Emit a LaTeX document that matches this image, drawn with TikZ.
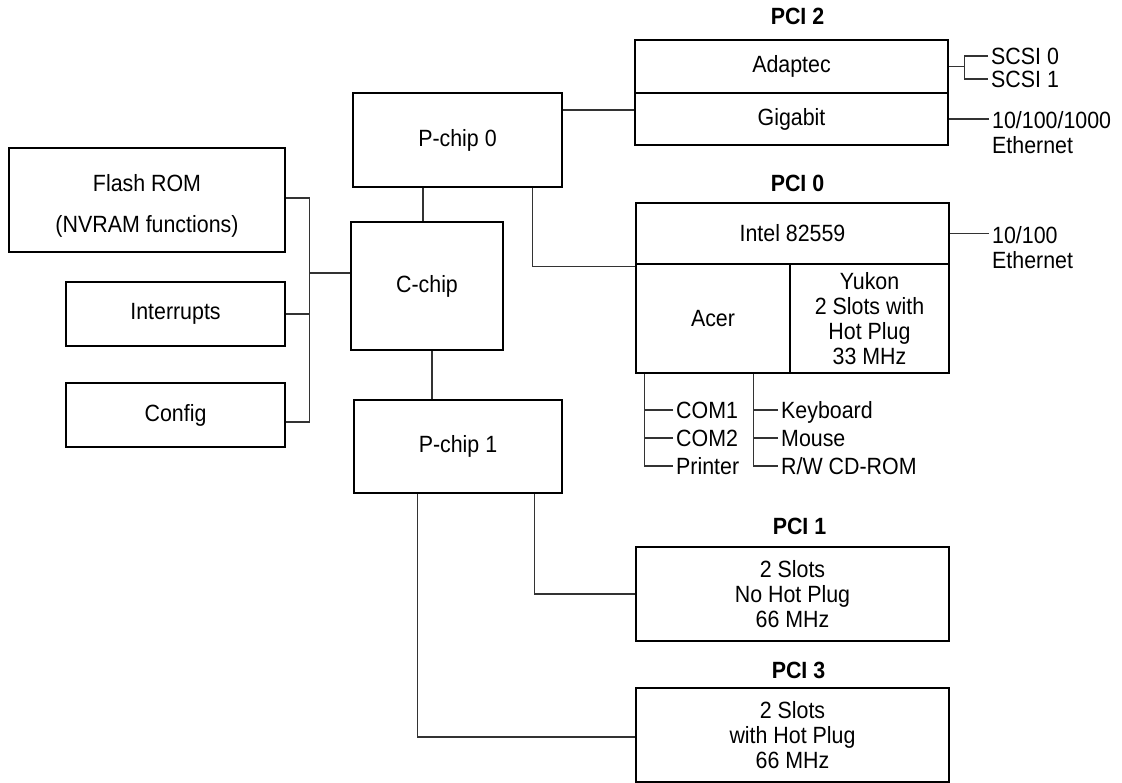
\documentclass[tikz,border=0pt]{standalone}
\usepackage{fontspec}
\setmainfont{Liberation Sans}[FakeStretch=0.91]
\usetikzlibrary{
	positioning,
	calc
}

\tikzset{
	txt/.style={font=\fontsize{23.5}{25}\selectfont},
	blk/.style={txt, draw, rectangle, line width=2.4pt, inner sep=0pt, align=center},
	pcilbl/.style={font=\fontsize{23.5}{25}\selectfont\bfseries, inner sep=0pt},
	tag/.style={txt, anchor=west, inner sep=3pt, align=left, text depth=0pt},
	wire/.style={line width=1.1pt, draw=black!80}
}

\begin{document}
\begin{tikzpicture}[x=1pt, y=-1pt]

		\useasboundingbox (0,0) rectangle (1122,783);

		% left side
		\node[blk, minimum width=276, minimum height=104] (flash) at (147,200) {\rule{0pt}{29pt}Flash ROM\\[16pt](NVRAM functions)};
		\node[blk, minimum width=219, minimum height=64] (intr) at (175.5,314) {Interrupts};
		\node[blk, minimum width=219, minimum height=64] (config) at (175.5,415) {Config};

		% chips
		\node[blk, minimum width=209, minimum height=94] (pchip0) at (457.5,140) {P-chip 0};
		\node[blk, minimum width=152, minimum height=128] (cchip) at (427,286) {C-chip};
		\node[blk, minimum width=208, minimum height=93] (pchip1) at (458,446.5) {P-chip 1};

		% PCI 2
		\node[blk, minimum width=313, minimum height=53] (adaptec) at (791.5,66.5) {Adaptec};
		\node[blk, minimum width=313, minimum height=52] (gigabit) at (791.5,119) {Gigabit};
		\node[pcilbl, above=14pt of adaptec.north, xshift=6pt] (pci2lbl) {PCI 2};

		% PCI 0
		\node[blk, minimum width=313, minimum height=61] (intel) at (792.5,233.5) {Intel 82559};
		\node[blk, minimum width=154, minimum height=109] (acer) at (713,318.5) {Acer};
		\node[blk, minimum width=159, minimum height=109] (yukon) at (869.5,318.5) {Yukon\\2 Slots with\\Hot Plug\\33 MHz};
		\node[pcilbl, above=10pt of intel.north, xshift=5pt] (pci0lbl) {PCI 0};

		% PCI 1 and PCI 3
		\node[blk, minimum width=313, minimum height=94] (pci1) at (792.5,594) {2 Slots\\No Hot Plug\\66 MHz};
		\node[pcilbl, above=11pt of pci1.north, xshift=7pt] (pci1lbl) {PCI 1};
		\node[blk, minimum width=313, minimum height=94] (pci3) at (792.5,735) {2 Slots\\with Hot Plug\\66 MHz};
		\node[pcilbl, above=8pt of pci3.north, xshift=6pt] (pci3lbl) {PCI 3};

		% outside ports
		\node[tag] (scsi0) at (988,56) {SCSI 0};
		\node[tag] (scsi1) at (988,79) {SCSI 1};
		\node[tag] (geth) at (989,132) {10/100/1000\\Ethernet};
		\node[tag] (eth100) at (989,247) {10/100\\Ethernet};

		\node[tag] (com1) at (673,410) {COM1};
		\node[tag] (com2) at (673,438) {COM2};
		\node[tag] (printer) at (673,466) {Printer};
		\node[tag] (kbd) at (778,410) {Keyboard};
		\node[tag] (mouse) at (778,438) {Mouse};
		\node[tag] (cdrom) at (778,466) {R/W CD-ROM};

		% bus to C-chip
		\coordinate (cin) at ($(cchip.west)+(0,-13)$);
		\coordinate (bus) at ($(cin)+(-40,0)$);
		\draw[wire] (cin) -- (bus);
		\draw[wire] ($(flash.east)+(0,-2)$) -| (bus) |- ($(config.east)+(0,7)$);
		\draw[wire] (intr.east) -- (intr.east -| bus);

		% chip links
		\draw[wire] (cchip.north) ++(-4,0) coordinate (cu) -- (cu |- pchip0.south);
		\draw[wire] (cchip.south) ++(5,0) coordinate (cd) -- (cd |- pchip1.north);
		\draw[wire] ($(gigabit.west)+(0,-9)$) coordinate (gi) -- (gi -| pchip0.east);
		\draw[wire] (pchip0.south east) ++(-31,0) |- ($(acer.north west)+(0,4)$);
		\draw[wire] (pchip1.south east) ++(-29,0) |- (pci1.west);
		\draw[wire] (pchip1.south west) ++(65,0) |- ($(pci3.west)+(0,2)$);

		% ports
		\draw[wire] (adaptec.east) -- ++(15,0) coordinate (sj);
		\draw[wire] (scsi0.west) -| (sj) |- (scsi1.west);
		\draw[wire] (gigabit.east) -- (gigabit.east -| geth.west);
		\draw[wire] (intel.east) -- (intel.east -| eth100.west);

		\coordinate (cb) at ($(acer.south west)+(10,0)$);
		\draw[wire] (cb) |- (printer.west);
		\draw[wire] (com1.west) -- (com1.west -| cb);
		\draw[wire] (com2.west) -- (com2.west -| cb);
		\coordinate (kb) at ($(acer.south east)+(-38,0)$);
		\draw[wire] (kb) |- (cdrom.west);
		\draw[wire] (kbd.west) -- (kbd.west -| kb);
		\draw[wire] (mouse.west) -- (mouse.west -| kb);

	\end{tikzpicture}
\end{document}
